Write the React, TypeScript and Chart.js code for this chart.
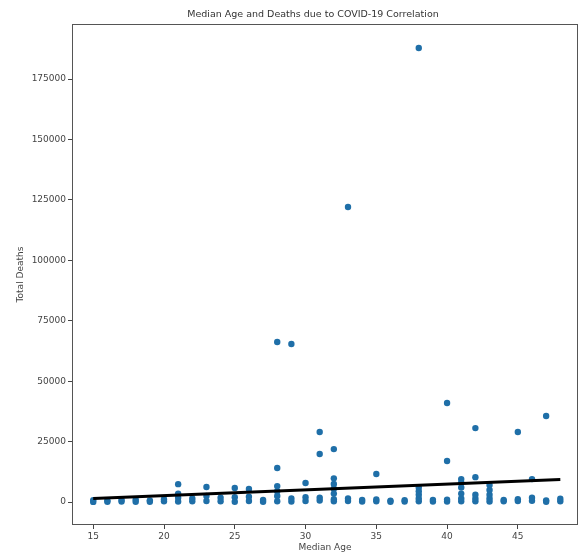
import React, { useEffect, useRef } from "react";
import { Chart, registerables } from "chart.js";

Chart.register(...registerables);

const chartTitle = "Median Age and Deaths due to COVID-19 Correlation";
const xAxisLabel = "Median Age";
const yAxisLabel = "Total Deaths";

const xTickValues = [15, 20, 25, 30, 35, 40, 45];
const yTickValues = [0, 25000, 50000, 75000, 100000, 125000, 150000, 175000];

// one entry per country: median age and total deaths
const medianAges = [
  15, 15, 16, 16, 17, 17, 18, 18, 19, 19, 20, 20,
  21, 21, 21, 21, 22, 22, 23, 23, 23, 24, 24,
  25, 25, 25, 26, 26, 26, 27, 27,
  28, 28, 28, 28, 28, 28, 29, 29, 29, 30, 30, 30,
  31, 31, 31, 31, 32, 32, 32, 32, 32, 32, 32,
  33, 33, 33, 34, 34, 35, 35, 35, 36, 36, 37, 37,
  38, 38, 38, 38, 38, 38, 39, 39, 40, 40, 40, 40,
  41, 41, 41, 41, 41, 41, 42, 42, 42, 42, 42,
  43, 43, 43, 43, 43, 44, 44, 45, 45, 45, 46, 46, 46,
  47, 47, 47, 48, 48,
];
const totalDeaths = [
  50, 800, 100, 600, 200, 900, 150, 1000, 100, 700, 300, 1200,
  200, 1800, 3500, 7400, 300, 1500, 400, 2500, 6200, 300, 1800,
  100, 2000, 5800, 400, 2200, 5400, 100, 900,
  300, 2500, 4500, 6600, 14100, 66200, 200, 1500, 65400, 400, 2000, 7900,
  600, 1800, 19900, 29000, 300, 1200, 3500, 5500, 7500, 9800, 21900,
  400, 1500, 122100, 200, 900, 300, 1100, 11600, 150, 600, 200, 800,
  300, 1500, 3000, 4500, 6000, 187900, 200, 900, 200, 1000, 17000, 41000,
  300, 1500, 3500, 6000, 8000, 9500, 300, 1500, 3000, 10300, 30600,
  200, 1500, 3000, 5000, 7000, 300, 900, 400, 1200, 29000, 500, 1800, 9500,
  100, 700, 35600, 300, 1400,
];

// fitted trend line end points
const trendAges = [15, 48];
const trendDeaths = [1500, 9300];

const frameAndTitle = {
  id: "frameAndTitle",
  afterDatasetsDraw(chart: any) {
    const { ctx, chartArea } = chart;
    ctx.save();
    ctx.strokeStyle = "#555";
    ctx.lineWidth = 1;
    ctx.strokeRect(
      Math.round(chartArea.left) + 0.5,
      Math.round(chartArea.top) + 0.5,
      Math.round(chartArea.right - chartArea.left) - 1,
      Math.round(chartArea.bottom - chartArea.top) - 1
    );
    ctx.restore();
  },
  afterDraw(chart: any) {
    const { ctx, chartArea } = chart;
    ctx.save();
    ctx.fillStyle = "#333";
    ctx.font = "9.5px 'DejaVu Sans'";
    ctx.textAlign = "center";
    ctx.textBaseline = "middle";
    ctx.fillText(chartTitle, (chartArea.left + chartArea.right) / 2 - 12, 15);
    ctx.restore();
  },
};

export default function App() {
  const canvasRef = useRef<HTMLCanvasElement | null>(null);

  useEffect(() => {
    const canvas = canvasRef.current;
    if (!canvas) return;
    const font = { family: "DejaVu Sans", size: 9 };
    const chart = new Chart(canvas, {
      type: "scatter",
      data: {
        datasets: [
          {
            type: "line" as any,
            data: trendAges.map((a, i) => ({ x: a, y: trendDeaths[i] })),
            borderColor: "#000000",
            borderWidth: 3,
            pointRadius: 0,
            fill: false,
            order: 0,
          },
          {
            data: medianAges.map((a, i) => ({ x: a, y: totalDeaths[i] })),
            backgroundColor: "#1f6fa8",
            borderColor: "#1f6fa8",
            borderWidth: 0,
            pointRadius: 3.2,
            order: 1,
          },
        ],
      },
      options: {
        responsive: false,
        animation: false,
        devicePixelRatio: 1,
        layout: { padding: { left: 0, right: 8, top: 24, bottom: 0 } },
        plugins: {
          legend: { display: false },
          tooltip: { enabled: false },
          title: { display: false },
        },
        scales: {
          x: {
            type: "linear",
            min: 13.5,
            max: 49.25,
            afterBuildTicks: (scale: any) => {
              scale.ticks = xTickValues.map((v) => ({ value: v }));
            },
            afterFit: (scale: any) => {
              scale.height = 28;
            },
            ticks: { color: "#444", font, padding: 2, maxRotation: 0 },
            grid: {
              display: true,
              drawOnChartArea: false,
              drawTicks: true,
              tickLength: 4,
              color: "#444",
            },
            border: { display: false },
            title: {
              display: true,
              text: xAxisLabel,
              color: "#444",
              font,
              padding: { top: 0, bottom: 0 },
            },
          },
          y: {
            type: "linear",
            min: -9500,
            max: 197800,
            afterBuildTicks: (scale: any) => {
              scale.ticks = yTickValues.map((v) => ({ value: v }));
            },
            afterFit: (scale: any) => {
              scale.width = 72;
            },
            ticks: {
              color: "#444",
              font,
              padding: 2,
              callback: (v: any) => String(v),
            },
            grid: {
              display: true,
              drawOnChartArea: false,
              drawTicks: true,
              tickLength: 4,
              color: "#444",
            },
            border: { display: false },
            title: {
              display: true,
              text: yAxisLabel,
              color: "#444",
              font,
              padding: { top: 15, bottom: 4 },
            },
          },
        },
      },
      plugins: [frameAndTitle],
    });
    return () => chart.destroy();
  }, []);

  return (
    <div
      style={{
        position: "absolute",
        left: 0,
        top: 0,
        width: 586,
        height: 553,
        background: "#ffffff",
      }}
    >
      <canvas ref={canvasRef} width={586} height={553} />
    </div>
  );
}
